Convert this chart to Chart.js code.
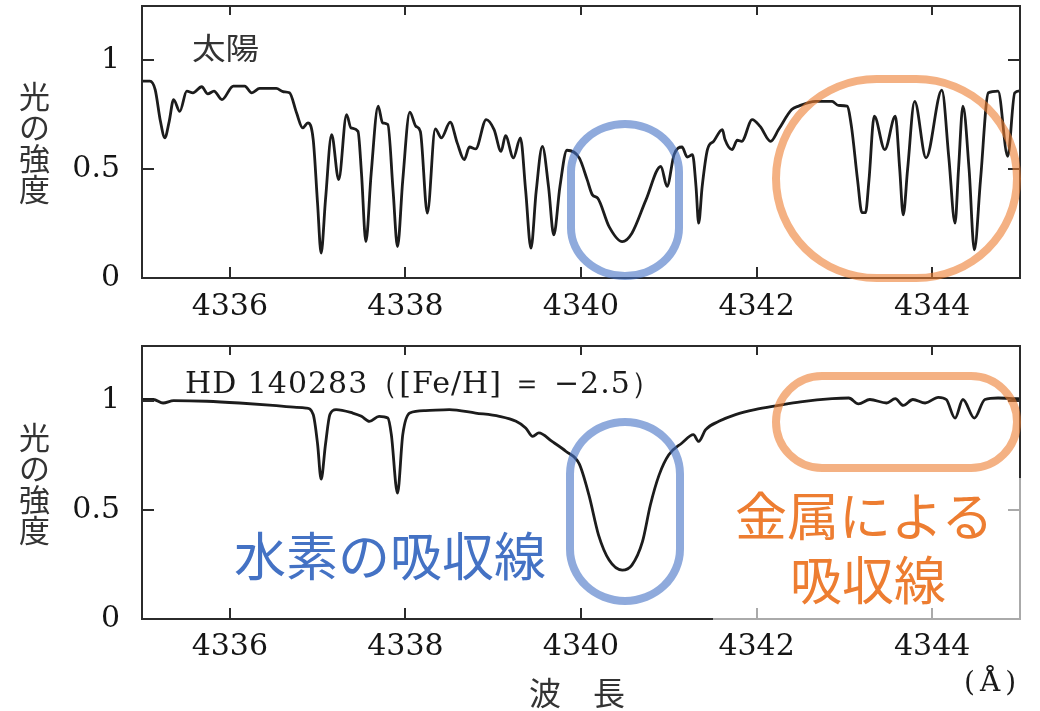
<!DOCTYPE html>
<html lang="ja">
<head>
<meta charset="utf-8">
<title>太陽と HD 140283 のスペクトル</title>
<script src="https://cdn.jsdelivr.net/npm/chart.js@4.4.1/dist/chart.umd.min.js"></script>
<style>
  html, body { margin: 0; padding: 0; background: #fff; }
  #wrap { position: relative; width: 1040px; height: 711px; overflow: hidden; background: #fff; }
  canvas { position: absolute; left: 0; }
  #cTop { top: 0; }
  #cBot { top: 330px; }
  .t { position: absolute; white-space: nowrap; line-height: 1; }
  .serif { font-family: "DejaVu Serif", "Liberation Serif", serif; color: #1a1a1a; }
  .jp { font-family: "Noto Sans CJK JP", "Noto Sans", sans-serif; }
  .ylab { width: 31px; font-size: 31px; line-height: 31px; word-break: break-all; white-space: normal; color: #333; }
  .ring { position: absolute; box-sizing: border-box; }
  .blue { border: 8px solid rgba(68, 114, 196, 0.6); }
  .orange { border: 8px solid rgba(237, 125, 49, 0.6); }
  .veil { position: absolute; background: rgba(255, 255, 255, 0.6); }
</style>
</head>
<body>
<div id="wrap">
  <canvas id="cTop" width="1040" height="330"></canvas>
  <canvas id="cBot" width="1040" height="381"></canvas>

  <!-- panel captions and axis titles -->
  <div class="t jp" style="left:192px;top:31px;font-size:30px;color:#333;transform:scaleX(1.12);transform-origin:left top;">太陽</div>
  <div class="t serif" style="left:185px;top:368px;font-size:30px;letter-spacing:1px;">HD 140283（[Fe/H] ＝ −2.5）</div>
  <div class="t jp ylab" style="left:19px;top:79px;">光の強度</div>
  <div class="t jp ylab" style="left:19px;top:420px;">光の強度</div>
  <div class="t jp" style="left:529px;top:675px;font-size:32px;color:#333;">波　長</div>
  <div class="t serif" style="left:964px;top:668px;font-size:28px;letter-spacing:5px;">(Å)</div>

  <!-- soft box behind the metal-line caption -->
  <div class="veil" style="left:713px;top:478px;width:330px;height:147px;"></div>

  <!-- highlighted regions -->
  <div class="ring blue" style="left:567px;top:120px;width:116px;height:160px;border-radius:58px / 52px;"></div>
  <div class="ring orange" style="left:772px;top:75px;width:249px;height:207px;border-radius:42% / 50%;"></div>
  <div class="ring blue" style="left:566px;top:418px;width:118px;height:187px;border-radius:59px / 56px;"></div>
  <div class="ring orange" style="left:772px;top:372px;width:249px;height:100px;border-radius:50px;"></div>

  <div class="t jp" style="left:234px;top:528px;font-size:52px;color:#4472c4;">水素の吸収線</div>
  <div class="t jp" style="left:735px;top:488px;font-size:52px;color:#ed7d31;">金属による</div>
  <div class="t jp" style="left:790px;top:552px;font-size:52px;color:#ed7d31;">吸収線</div>
</div>

<script>
// Tick positions shared by both panels
const waveTicks = [4336, 4338, 4340, 4342, 4344];
const fluxTicks = [0, 0.5, 1];

// Solar spectrum around H-gamma (wavelength in Å, normalised flux)
const sunWave = [
  4335.00, 4335.09, 4335.15, 4335.21, 4335.26, 4335.31, 4335.36, 4335.43, 4335.51, 4335.58,
  4335.68, 4335.75, 4335.82, 4335.91, 4336.04, 4336.17, 4336.25, 4336.34, 4336.53, 4336.61,
  4336.68, 4336.76, 4336.83, 4336.89, 4336.95, 4337.00, 4337.04, 4337.09, 4337.16, 4337.24,
  4337.33, 4337.38, 4337.46, 4337.50, 4337.55, 4337.61, 4337.69, 4337.74, 4337.80, 4337.86,
  4337.91, 4337.97, 4338.05, 4338.12, 4338.17, 4338.25, 4338.34, 4338.41, 4338.51, 4338.59,
  4338.67, 4338.73, 4338.80, 4338.92, 4339.01, 4339.09, 4339.14, 4339.23, 4339.31, 4339.37,
  4339.43, 4339.49, 4339.56, 4339.63, 4339.69, 4339.76, 4339.84, 4339.98, 4340.07, 4340.13,
  4340.19, 4340.32, 4340.47, 4340.58, 4340.74, 4340.91, 4340.98, 4341.06, 4341.15, 4341.21,
  4341.27, 4341.31, 4341.34, 4341.38, 4341.44, 4341.51, 4341.61, 4341.64, 4341.72, 4341.78,
  4341.83, 4341.95, 4342.04, 4342.16, 4342.25, 4342.40, 4342.48, 4342.67, 4342.86, 4342.93,
  4343.03, 4343.08, 4343.15, 4343.20, 4343.24, 4343.28, 4343.34, 4343.46, 4343.58, 4343.63,
  4343.67, 4343.72, 4343.80, 4343.93, 4344.11, 4344.19, 4344.26, 4344.30, 4344.35, 4344.42,
  4344.48, 4344.55, 4344.64, 4344.75, 4344.86, 4344.94, 4345.00
];
const sunFlux = [
  0.905, 0.905, 0.866, 0.720, 0.644, 0.720, 0.820, 0.766, 0.859, 0.851,
  0.879, 0.846, 0.859, 0.820, 0.882, 0.882, 0.851, 0.871, 0.871, 0.856,
  0.851, 0.759, 0.690, 0.713, 0.636, 0.340, 0.114, 0.360, 0.659, 0.452,
  0.751, 0.690, 0.674, 0.480, 0.167, 0.480, 0.790, 0.713, 0.705, 0.400,
  0.144, 0.450, 0.762, 0.697, 0.674, 0.298, 0.685, 0.644, 0.716, 0.621,
  0.544, 0.602, 0.593, 0.728, 0.682, 0.582, 0.654, 0.552, 0.644, 0.400,
  0.137, 0.400, 0.605, 0.420, 0.198, 0.420, 0.587, 0.552, 0.452, 0.382,
  0.367, 0.236, 0.167, 0.206, 0.359, 0.513, 0.421, 0.567, 0.602, 0.556,
  0.567, 0.420, 0.252, 0.420, 0.590, 0.628, 0.682, 0.636, 0.590, 0.633,
  0.628, 0.728, 0.697, 0.628, 0.682, 0.774, 0.790, 0.812, 0.812, 0.793,
  0.790, 0.697, 0.450, 0.300, 0.300, 0.450, 0.744, 0.590, 0.744, 0.500,
  0.290, 0.500, 0.812, 0.552, 0.863, 0.550, 0.252, 0.500, 0.790, 0.500,
  0.129, 0.450, 0.851, 0.859, 0.559, 0.851, 0.860
];

// Metal-poor star HD 140283 over the same range
const hdWave = [
  4335.00, 4335.13, 4335.24, 4335.36, 4335.74, 4336.11, 4336.49, 4336.76, 4336.87, 4336.95,
  4337.00, 4337.04, 4337.09, 4337.14, 4337.21, 4337.40, 4337.50, 4337.59, 4337.70, 4337.80,
  4337.84, 4337.91, 4337.97, 4338.05, 4338.23, 4338.50, 4338.80, 4339.07, 4339.26, 4339.37,
  4339.45, 4339.52, 4339.67, 4339.83, 4339.98, 4340.09, 4340.20, 4340.32, 4340.47, 4340.58,
  4340.70, 4340.79, 4340.89, 4341.00, 4341.15, 4341.28, 4341.34, 4341.42, 4341.57, 4341.76,
  4341.98, 4342.25, 4342.50, 4342.86, 4343.05, 4343.16, 4343.29, 4343.48, 4343.58, 4343.67,
  4343.78, 4343.92, 4344.07, 4344.16, 4344.26, 4344.35, 4344.48, 4344.60, 4344.75, 4344.94,
  4345.00
];
const hdFlux = [
  1.005, 1.005, 0.989, 1.000, 0.997, 0.989, 0.978, 0.969, 0.966, 0.936,
  0.800, 0.640, 0.800, 0.936, 0.959, 0.943, 0.928, 0.905, 0.928, 0.920,
  0.844, 0.576, 0.844, 0.943, 0.954, 0.959, 0.943, 0.928, 0.905, 0.875,
  0.836, 0.852, 0.813, 0.767, 0.710, 0.568, 0.384, 0.270, 0.224, 0.247,
  0.354, 0.522, 0.660, 0.752, 0.806, 0.844, 0.813, 0.867, 0.905, 0.936,
  0.959, 0.978, 0.994, 1.009, 1.012, 0.985, 1.005, 0.989, 1.009, 0.978,
  1.005, 0.989, 1.015, 1.005, 0.920, 1.005, 0.920, 1.005, 1.012, 1.009,
  1.008
];

const toPoints = (xs, ys) => xs.map((x, i) => ({ x, y: ys[i] }));

// Box frame with inward tick marks on all four sides
const framePlugin = {
  id: 'frame',
  afterDatasetsDraw(chart) {
    const { ctx, chartArea: a, scales: { x, y } } = chart;
    ctx.save();
    ctx.strokeStyle = '#2b2b2b';
    ctx.lineWidth = 2;
    ctx.strokeRect(a.left, a.top, a.right - a.left, a.bottom - a.top);
    ctx.beginPath();
    x.ticks.forEach(t => {
      const px = Math.round(x.getPixelForValue(t.value));
      ctx.moveTo(px, a.bottom); ctx.lineTo(px, a.bottom - 11);
      ctx.moveTo(px, a.top); ctx.lineTo(px, a.top + 9);
    });
    y.ticks.forEach(t => {
      const py = Math.round(y.getPixelForValue(t.value));
      ctx.moveTo(a.left, py); ctx.lineTo(a.left + 12, py);
      ctx.moveTo(a.right, py); ctx.lineTo(a.right - 12, py);
    });
    ctx.stroke();
    ctx.restore();
  }
};

// Fixed axis boxes so both panels share the same plot rectangle
const fixBox = (w, h) => s => {
  if (w !== null) s.width = w;
  if (h !== null) s.height = h;
  s.paddingTop = 0; s.paddingBottom = 0; s.paddingLeft = 0; s.paddingRight = 0;
};

function makePanel(canvasId, xs, ys, padTop, xAxisHeight, labelPad) {
  return new Chart(document.getElementById(canvasId), {
    type: 'line',
    data: {
      datasets: [{
        data: toPoints(xs, ys),
        borderColor: '#1c1c1c',
        borderWidth: 2.8,
        pointRadius: 0,
        cubicInterpolationMode: 'monotone',
        fill: false
      }]
    },
    options: {
      responsive: false,
      animation: false,
      devicePixelRatio: 1,
      layout: { padding: { top: padTop, right: 20, left: 0, bottom: 0 } },
      plugins: { legend: { display: false }, tooltip: { enabled: false } },
      scales: {
        x: {
          type: 'linear',
          min: 4335, max: 4345,
          afterBuildTicks: s => { s.ticks = waveTicks.map(v => ({ value: v })); },
          afterFit: fixBox(null, xAxisHeight),
          grid: { display: false, drawTicks: false },
          border: { display: false },
          ticks: {
            padding: labelPad,
            maxRotation: 0,
            color: '#151515',
            font: { family: 'DejaVu Serif', size: 30, lineHeight: 1.2 },
            callback: v => String(v)
          }
        },
        y: {
          min: 0, max: 1.25,
          afterBuildTicks: s => { s.ticks = fluxTicks.map(v => ({ value: v })); },
          afterFit: fixBox(142, null),
          grid: { display: false, drawTicks: false },
          border: { display: false },
          ticks: {
            padding: 22,
            color: '#151515',
            font: { family: 'DejaVu Serif', size: 30 },
            callback: v => String(v)
          }
        }
      }
    },
    plugins: [framePlugin]
  });
}

makePanel('cTop', sunWave, sunFlux, 6, 52, 11);
makePanel('cBot', hdWave, hdFlux, 16, 92, 10);
</script>
</body>
</html>
